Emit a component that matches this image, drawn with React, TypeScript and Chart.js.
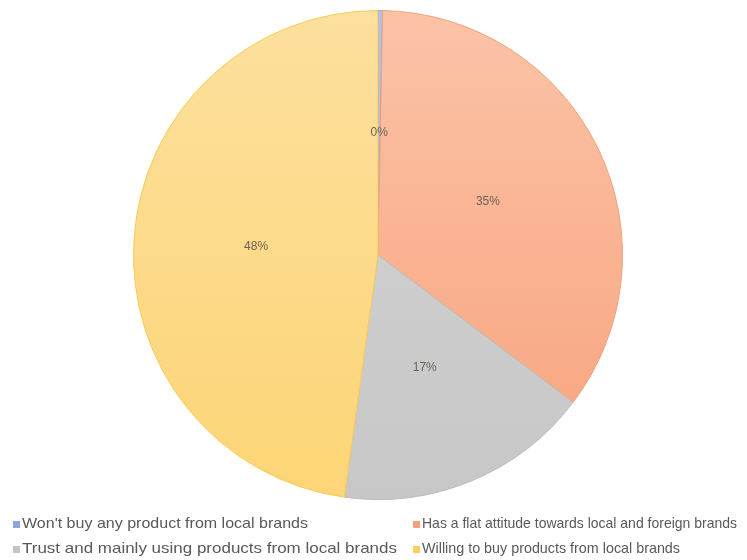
import React, { useEffect, useRef } from "react";
import { Chart, registerables } from "chart.js";

Chart.register(...registerables);

const categories = [
  "Won't buy any product from local brands",
  "Has a flat attitude towards local and foreign brands",
  "Trust and mainly using products from local brands",
  "Willing to buy products from local brands",
];
const values = [0.3, 35.0, 16.9, 47.8];
const valueLabels = ["0%", "35%", "17%", "48%"];
const topColors = ["#b3c2ec", "#fbc3a6", "#d4d4d4", "#fde09e"];
const bottomColors = ["#9aaee2", "#f8a27d", "#c7c7c7", "#fdd576"];
const borderColors = ["#8c9fd6", "#f2a07a", "#bdbdbd", "#f7cc55"];
const legendColors = ["#8fa4dc", "#f6a07c", "#c4c4c4", "#fccf5e"];
const legendTextWidths = [286, 315, 375, 258];

const FONT = "'Liberation Sans', 'DejaVu Sans', sans-serif";

const labelsPlugin = {
  id: "sliceLabels",
  afterDatasetsDraw(chart: any) {
    const ctx = chart.ctx;
    const meta = chart.getDatasetMeta(0);
    ctx.save();
    ctx.font = `12px ${FONT}`;
    ctx.fillStyle = "#6a6258";
    ctx.textAlign = "center";
    ctx.textBaseline = "middle";
    meta.data.forEach((arc: any, i: number) => {
      const p = arc.getProps(["x", "y", "startAngle", "endAngle", "outerRadius"], true);
      const mid = (p.startAngle + p.endAngle) / 2;
      const r = p.outerRadius * 0.5;
      ctx.fillText(valueLabels[i], p.x + Math.cos(mid) * r, p.y + Math.sin(mid) * r);
    });
    ctx.restore();
  },
  afterDraw(chart: any) {
    const ctx = chart.ctx;
    ctx.save();
    ctx.font = `14.5px ${FONT}`;
    ctx.textBaseline = "middle";
    const cols = [5, 405];
    const rows = [516, 541];
    categories.forEach((c, i) => {
      const x = cols[i % 2];
      const y = rows[Math.floor(i / 2)];
      ctx.fillStyle = legendColors[i];
      ctx.fillRect(x, y - 3, 7, 7);
      ctx.fillStyle = "#595959";
      const w = ctx.measureText(c).width;
      const sx = legendTextWidths[i] / w;
      ctx.save();
      ctx.translate(x + 9, y);
      ctx.scale(sx, 1);
      ctx.fillText(c, 0, 0);
      ctx.restore();
    });
    ctx.restore();
  },
};

function grad(ctx: any, i: number) {
  const chart = ctx.chart;
  const area = chart.chartArea;
  if (!area) return topColors[i];
  const g = chart.ctx.createLinearGradient(0, area.top, 0, area.bottom);
  g.addColorStop(0, topColors[i]);
  g.addColorStop(1, bottomColors[i]);
  return g;
}

export default function App() {
  const ref = useRef<HTMLCanvasElement | null>(null);
  useEffect(() => {
    document.documentElement.style.overflow = "hidden";
    document.body.style.overflow = "hidden";
    if (!ref.current) return;
    const chart = new Chart(ref.current, {
      type: "pie",
      data: {
        labels: categories,
        datasets: [
          {
            data: values,
            backgroundColor: (c: any) => grad(c, c.dataIndex),
            borderColor: borderColors,
            borderWidth: 1,
          },
        ],
      },
      options: {
        animation: false,
        responsive: false,
        maintainAspectRatio: false,
        layout: { padding: { left: 9, right: 0, top: 2, bottom: 60 } },
        plugins: {
          legend: { display: false },
          tooltip: { enabled: false },
        },
      },
      plugins: [labelsPlugin],
    });
    return () => chart.destroy();
  }, []);
  return (
    <div style={{ width: 731, height: 552 }}>
      <canvas ref={ref} width={731} height={552} style={{ width: 731, height: 552, display: "block" }} />
    </div>
  );
}
